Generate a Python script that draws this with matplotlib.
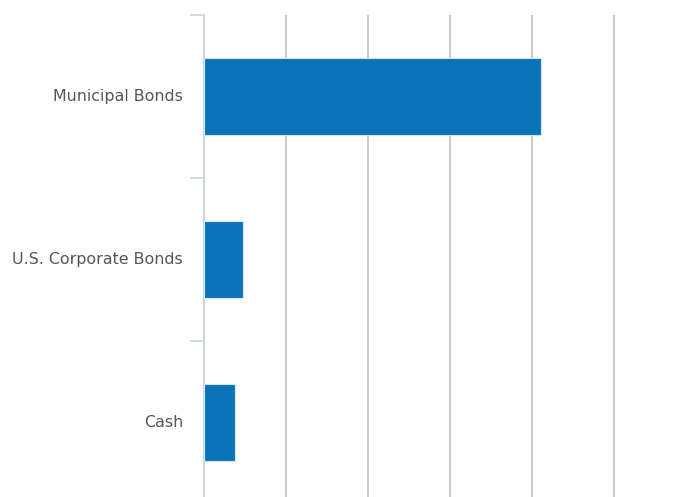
import numpy as np
import matplotlib
matplotlib.use("Agg")
import matplotlib.pyplot as plt

# --- data ---
categorias = ["Municipal Bonds", "U.S. Corporate Bonds", "Cash"]
valores = [82.2, 9.4, 7.6]
ticks_x = [0, 20, 40, 60, 80, 100]

W, H = 691, 497
fig = plt.figure(figsize=(W / 100, H / 100), dpi=100)

# axes placed in pixel terms (top at 15px, bands 163px tall, left at 204px)
izq, arriba, banda = 204, 15, 163
alto = 3 * banda
ax = fig.add_axes([izq / W, (H - arriba - alto) / H, (W - izq) / W, alto / H])

y = np.arange(len(categorias))
ax.barh(y, valores, height=0.47, color="#0873b9", edgecolor="#d6e6f3",
        linewidth=0.8, zorder=3)

ax.set_ylim(len(categorias) - 0.5, -0.5)
ax.set_xlim(0, (W - izq) / 82 * 20)

ax.set_xticks(ticks_x)
ax.tick_params(axis="x", length=0, labelbottom=False)
ax.grid(axis="x", color="#cccccc", linewidth=1.5, zorder=0)
ax.set_axisbelow(True)

ax.set_yticks(y - 0.008)
ax.set_yticklabels(categorias, fontsize=11.4, color="#555555", family="DejaVu Sans")
ax.tick_params(axis="y", which="major", length=0, pad=15)
ax.set_yticks(np.arange(-0.5, len(categorias)), minor=True)
ax.tick_params(axis="y", which="minor", length=10, width=1.2, color="#c8d4e2")

for lado in ["top", "right", "bottom"]:
    ax.spines[lado].set_visible(False)
ax.spines["left"].set_color("#c8d4e2")
ax.spines["left"].set_linewidth(1.5)

fig.savefig("out.png", dpi=100)
